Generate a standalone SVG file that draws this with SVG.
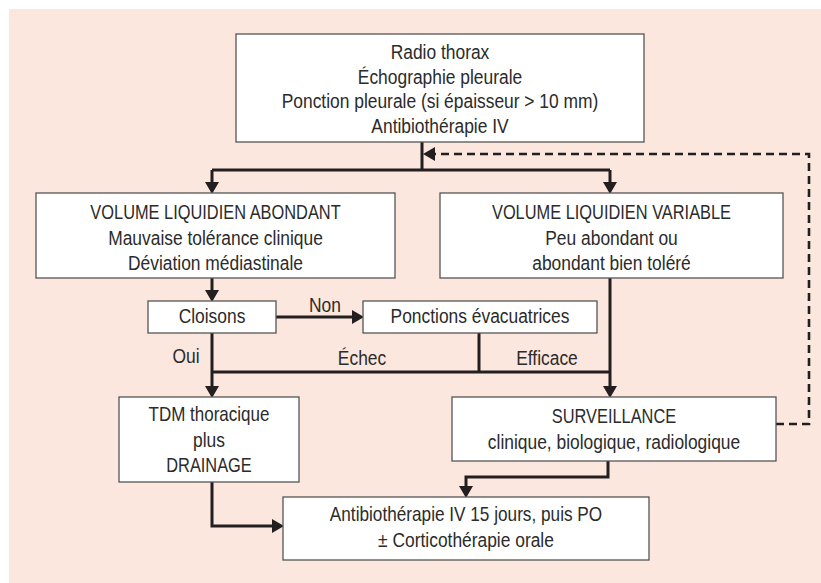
<svg xmlns="http://www.w3.org/2000/svg" width="821" height="583" viewBox="0 0 821 583">
  <style>
    .box { fill: #ffffff; stroke: #555555; stroke-width: 1.3; }
    .t { font-family: "Liberation Sans", Arial, sans-serif; font-size: 20px; fill: #2b2b2b; text-anchor: middle; }
    .c { fill: none; stroke: #231f20; stroke-width: 3; }
    .d { fill: none; stroke: #231f20; stroke-width: 2.6; stroke-dasharray: 8 5; }
  </style>
  <defs>
    <marker id="ah" markerUnits="userSpaceOnUse" markerWidth="14" markerHeight="14" refX="5" refY="7" orient="auto">
      <path d="M0,0 L12,7 L0,14 z" fill="#231f20"/>
    </marker>
  </defs>

  <!-- page background -->
  <rect x="9" y="9" width="812" height="574" fill="#fce7de"/>

  <!-- connectors -->
  <g id="connectors">
    <path class="c" d="M422,142 V170"/>
    <path class="c" d="M212,170 H610"/>
    <path class="c" d="M212,170 V187" marker-end="url(#ah)"/>
    <path class="c" d="M610,170 V187" marker-end="url(#ah)"/>
    <path class="c" d="M212,278 V295" marker-end="url(#ah)"/>
    <path class="c" d="M276,317 H357" marker-end="url(#ah)"/>
    <path class="c" d="M212,333 V391" marker-end="url(#ah)"/>
    <path class="c" d="M479,333 V372"/>
    <path class="c" d="M212,372 H610"/>
    <path class="c" d="M610,278 V391" marker-end="url(#ah)"/>
    <path class="c" d="M212,482 V526 H277" marker-end="url(#ah)"/>
    <path class="c" d="M608,461 V477 H466 V491" marker-end="url(#ah)"/>
    <path class="d" d="M776,424 H809 V154 H432"/>
    <path d="M423,154 L435,147 L435,161 z" fill="#231f20"/>
  </g>

  <!-- text is narrowed horizontally to a condensed face:
       capitals at 0.82, mixed case at 0.87 -->
  <g id="start">
    <rect class="box" x="236" y="34" width="408" height="108"/>
    <text class="t" transform="translate(440 59) scale(0.87 1)">Radio thorax</text>
    <text class="t" transform="translate(440 84) scale(0.87 1)">Échographie pleurale</text>
    <text class="t" transform="translate(440 108) scale(0.87 1)">Ponction pleurale (si épaisseur &gt; 10 mm)</text>
    <text class="t" transform="translate(440 133) scale(0.87 1)">Antibiothérapie IV</text>
  </g>

  <g id="abondant">
    <rect class="box" x="36" y="193" width="359" height="85"/>
    <text class="t" transform="translate(215.5 219) scale(0.82 1)">VOLUME LIQUIDIEN ABONDANT</text>
    <text class="t" transform="translate(215.5 244.5) scale(0.87 1)">Mauvaise tolérance clinique</text>
    <text class="t" transform="translate(215.5 270) scale(0.87 1)">Déviation médiastinale</text>
  </g>

  <g id="variable">
    <rect class="box" x="440" y="193" width="343" height="85"/>
    <text class="t" transform="translate(611.5 219) scale(0.82 1)">VOLUME LIQUIDIEN VARIABLE</text>
    <text class="t" transform="translate(611.5 244.5) scale(0.87 1)">Peu abondant ou</text>
    <text class="t" transform="translate(611.5 270) scale(0.87 1)">abondant bien toléré</text>
  </g>

  <g id="cloisons">
    <rect class="box" x="148" y="301" width="128" height="32"/>
    <text class="t" transform="translate(212 323) scale(0.87 1)">Cloisons</text>
  </g>

  <g id="ponctions">
    <rect class="box" x="363" y="301" width="234" height="32"/>
    <text class="t" transform="translate(480 323) scale(0.87 1)">Ponctions évacuatrices</text>
  </g>

  <g id="labels">
    <text class="t" transform="translate(325 312) scale(0.87 1)">Non</text>
    <text class="t" transform="translate(186 363) scale(0.87 1)">Oui</text>
    <text class="t" transform="translate(362 365) scale(0.87 1)">Échec</text>
    <text class="t" transform="translate(547 365) scale(0.87 1)">Efficace</text>
  </g>

  <g id="drainage">
    <rect class="box" x="119" y="397" width="180" height="85"/>
    <text class="t" transform="translate(209 421) scale(0.85 1)">TDM thoracique</text>
    <text class="t" transform="translate(209 446.5) scale(0.87 1)">plus</text>
    <text class="t" transform="translate(209 472) scale(0.82 1)">DRAINAGE</text>
  </g>

  <g id="surveillance">
    <rect class="box" x="452" y="397" width="324" height="64"/>
    <text class="t" transform="translate(614 423) scale(0.82 1)">SURVEILLANCE</text>
    <text class="t" transform="translate(614 449) scale(0.87 1)">clinique, biologique, radiologique</text>
  </g>

  <g id="traitement">
    <rect class="box" x="283" y="497" width="366" height="63"/>
    <text class="t" transform="translate(466 521) scale(0.86 1)">Antibiothérapie IV 15 jours, puis PO</text>
    <text class="t" transform="translate(466 547) scale(0.87 1)">± Corticothérapie orale</text>
  </g>
</svg>
